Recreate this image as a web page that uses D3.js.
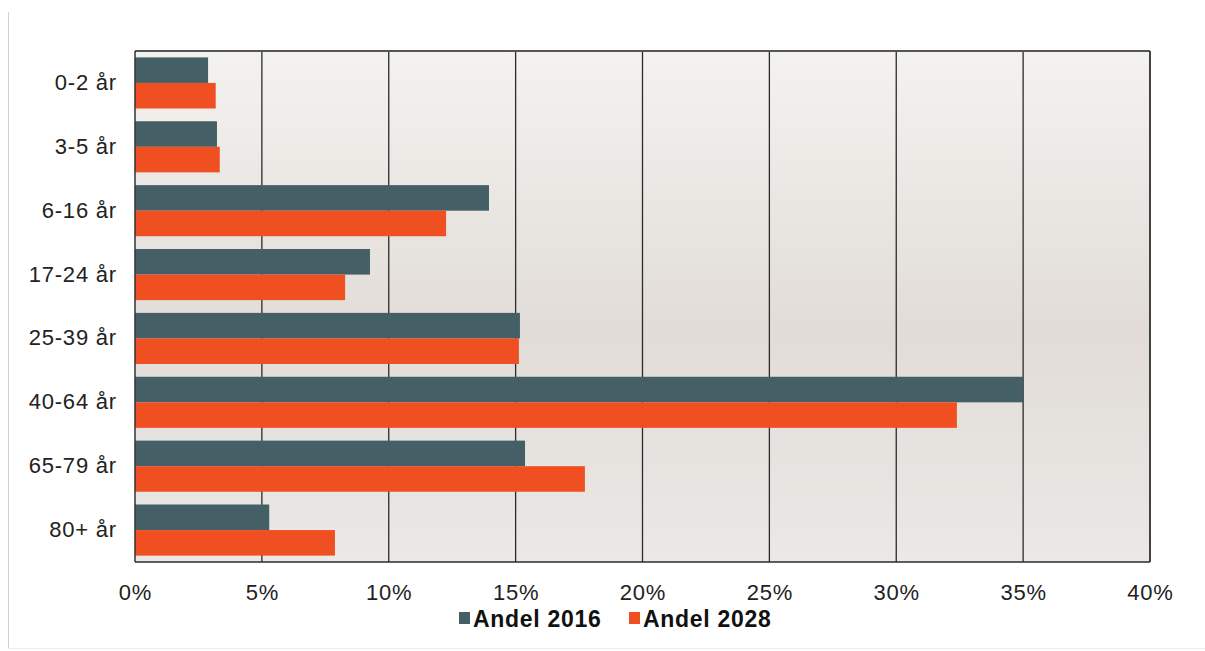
<!DOCTYPE html>
<html><head><meta charset="utf-8">
<script src="https://cdn.jsdelivr.net/npm/d3@7"></script>
<style>html,body{margin:0;padding:0;background:#fff;}svg{display:block;font-family:"Liberation Sans",Arial,sans-serif;}</style>
</head><body>
<script>
const categories = ["0-2 år","3-5 år","6-16 år","17-24 år","25-39 år","40-64 år","65-79 år","80+ år"];
const seriesNames = ["Andel 2016","Andel 2028"];
const andel2016 = [2.88, 3.23, 13.95, 9.26, 15.17, 35.0, 15.37, 5.29];
const andel2028 = [3.18, 3.34, 12.26, 8.28, 15.13, 32.39, 17.73, 7.88];
const tickValues = [0,5,10,15,20,25,30,35,40];
const colors = ["#445f66","#f04f22"];

const W = 1205, H = 651;
const m = {left:135, right:1150, top:51, bottom:562};
const svg = d3.select("body").append("svg").attr("width",W).attr("height",H);

// outer frame
svg.append("line").attr("x1",8.5).attr("x2",8.5).attr("y1",12).attr("y2",648).attr("stroke","#d0d0d0").attr("stroke-width",1);
svg.append("line").attr("x1",8).attr("x2",1205).attr("y1",648.5).attr("y2",648.5).attr("stroke","#ececec").attr("stroke-width",1);

const defs = svg.append("defs");
const grad = defs.append("linearGradient").attr("id","bg").attr("x1",0).attr("x2",0).attr("y1",0).attr("y2",1);
grad.append("stop").attr("offset","0%").attr("stop-color","#f4f2ef");
grad.append("stop").attr("offset","55%").attr("stop-color","#e1dcd8");
grad.append("stop").attr("offset","100%").attr("stop-color","#ebe8e5");

const x = d3.scaleLinear().domain([0,40]).range([m.left,m.right]);
const y = d3.scaleBand().domain(categories).range([m.top,m.bottom]).paddingInner(0.2).paddingOuter(0.1);
const y1 = d3.scaleBand().domain(seriesNames).range([0,y.bandwidth()]);

svg.append("rect").attr("x",m.left).attr("y",m.top).attr("width",m.right-m.left).attr("height",m.bottom-m.top).attr("fill","url(#bg)");

// gridlines
svg.append("g").selectAll("line").data(tickValues.filter(d=>d>0)).join("line")
  .attr("x1",d=>x(d)).attr("x2",d=>x(d)).attr("y1",m.top).attr("y2",m.bottom)
  .attr("stroke","#2b2b2b").attr("stroke-width",1.3);

// bars
const data = categories.map((c,i)=>({c, vals:[andel2016[i], andel2028[i]]}));
const g = svg.append("g");
data.forEach(d=>{
  d.vals.forEach((v,j)=>{
    g.append("rect").attr("x",x(0)).attr("y",y(d.c)+y1(seriesNames[j]))
     .attr("width",x(v)-x(0)).attr("height",y1.bandwidth()).attr("fill",colors[j]);
  });
});

// frame of plot
svg.append("line").attr("x1",m.left).attr("x2",m.right).attr("y1",m.top).attr("y2",m.top).attr("stroke","#555").attr("stroke-width",2);
svg.append("line").attr("x1",m.left).attr("x2",m.left).attr("y1",m.top).attr("y2",m.bottom).attr("stroke","#333").attr("stroke-width",1.5);
svg.append("line").attr("x1",m.right).attr("x2",m.right).attr("y1",m.top).attr("y2",m.bottom).attr("stroke","#333").attr("stroke-width",1.5);
svg.append("line").attr("x1",m.left).attr("x2",m.right).attr("y1",m.bottom).attr("y2",m.bottom).attr("stroke","#2b2b2b").attr("stroke-width",1.5);

// x axis labels
const xAxis = d3.axisBottom(x).tickValues(tickValues).tickFormat(d=>d+"%").tickSize(0).tickPadding(22);
const xg = svg.append("g").attr("transform",`translate(0,${m.bottom})`).call(xAxis);
xg.select(".domain").remove();
xg.selectAll("text").attr("font-size",22).attr("fill","#222").attr("letter-spacing","0.8px")
  .attr("font-family","Liberation Sans, Arial, sans-serif");

// y axis labels
const yAxis = d3.axisLeft(y).tickSize(0).tickPadding(18);
const yg = svg.append("g").attr("transform",`translate(${m.left},0)`).call(yAxis);
yg.select(".domain").remove();
yg.selectAll("text").attr("font-size",22).attr("fill","#222").attr("letter-spacing","0.8px")
  .attr("font-family","Liberation Sans, Arial, sans-serif");

// legend
const legX = [459, 629];
const leg = svg.append("g");
seriesNames.forEach((s,i)=>{
  leg.append("rect").attr("x",legX[i]).attr("y",612).attr("width",11).attr("height",12).attr("fill",colors[i]);
  leg.append("text").attr("x",legX[i]+14).attr("y",627).attr("font-size",23).attr("font-weight","bold")
    .attr("letter-spacing","0.7px").attr("fill","#111").text(s);
});
</script>
</body></html>
